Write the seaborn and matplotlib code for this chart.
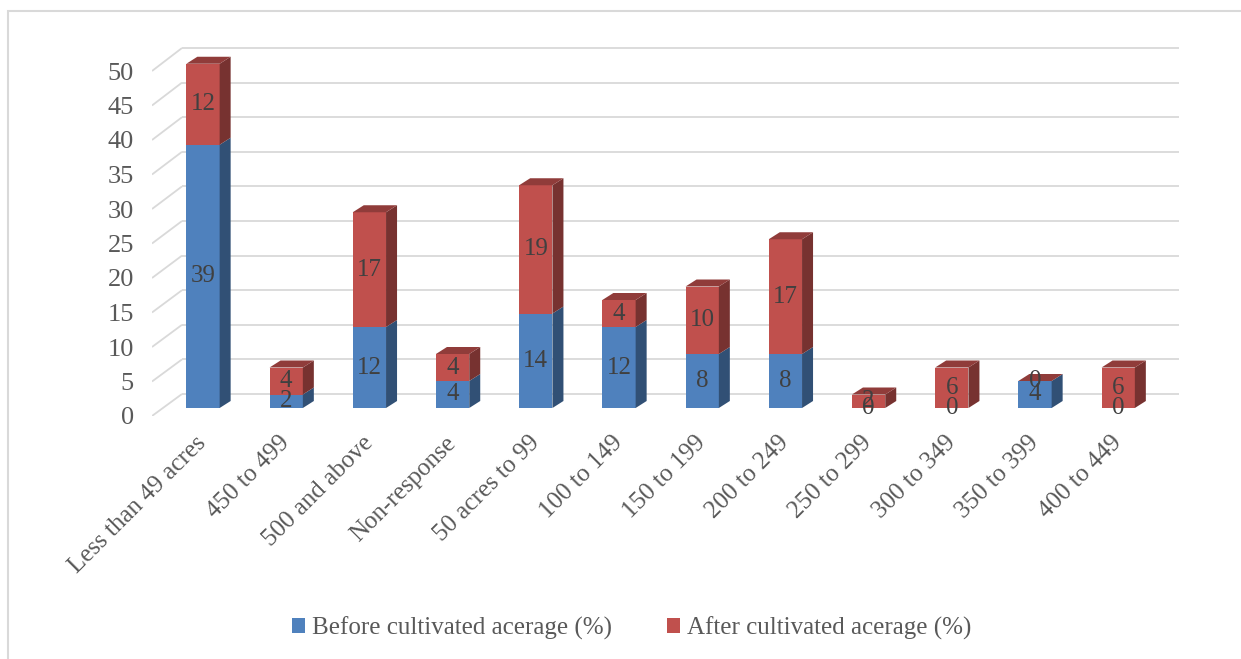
import matplotlib
matplotlib.use("Agg")
import matplotlib.pyplot as plt
import seaborn as sns
import pandas as pd
import numpy as np
from matplotlib.patches import Polygon, Rectangle, Patch
import matplotlib.colors as mcolors

# ---------------- data ----------------
categories = ["Less than 49 acres", "450 to 499", "500 and above", "Non-response",
              "50 acres to 99", "100 to 149", "150 to 199", "200 to 249",
              "250 to 299", "300 to 349", "350 to 399", "400 to 449"]
before = [39, 2, 12, 4, 14, 12, 8, 8, 0, 0, 4, 0]
after = [12, 4, 17, 4, 19, 4, 10, 17, 2, 6, 0, 6]
series_names = ["Before cultivated acerage (%)", "After cultivated acerage (%)"]
y_ticks = [0, 5, 10, 15, 20, 25, 30, 35, 40, 45, 50]

# ---------------- style ----------------
sns.set_theme(style="white")
plt.rcParams["font.family"] = ["Liberation Serif", "DejaVu Serif"]

BLUE = "#4F81BD"
RED = "#C0504D"
TXT = "#595959"
LBL = "#404040"
GRID = "#D9D9D9"
FS = 18


def shade(c, f):
    r, g, b = mcolors.to_rgb(c)
    return (r * f, g * f, b * f)


W, H = 1241, 659
fig = plt.figure(figsize=(W / 100, H / 100), dpi=100)

# pixel geometry of the plot area
X0, DX = 203.0, 83.2      # pixel x of first category, pixels per category
Y0, DY = 408.0, 6.75      # pixel y of value 0 on bar front, pixels per unit


def dx(px):
    return (px - X0) / DX


def dy(py):
    return (Y0 - py) / DY


left_px, right_px, bottom_py, top_py = 152, 1200, 416, 30
ax = fig.add_axes([left_px / W, 1 - bottom_py / H,
                   (right_px - left_px) / W, (bottom_py - top_py) / H])

df = pd.DataFrame({"category": categories, "before": before, "after": after})
df["total"] = df["before"] + df["after"]

BW = 0.40
sns.barplot(data=df, x="category", y="total", order=categories, color=RED,
            saturation=1, width=BW, linewidth=0, ax=ax, zorder=3)
sns.barplot(data=df, x="category", y="before", order=categories, color=BLUE,
            saturation=1, width=BW, linewidth=0, ax=ax, zorder=3)

# 3D depth faces
ddx = 11 / DX
ddy = 7 / DY
for i, (b, a) in enumerate(zip(before, after)):
    xr = i + BW / 2
    xl = i - BW / 2
    segs = [(0, b, BLUE), (b, b + a, RED)]
    for y0, y1, c in segs:
        if y1 > y0:
            ax.add_patch(Polygon([(xr, y0), (xr + ddx, y0 + ddy), (xr + ddx, y1 + ddy), (xr, y1)],
                                 closed=True, facecolor=shade(c, 0.62), edgecolor="none", zorder=3))
    top = b + a
    ax.add_patch(Polygon([(xl, top), (xl + ddx, top + ddy), (xr + ddx, top + ddy), (xr, top)],
                         closed=True, facecolor=shade(RED, 0.75), edgecolor="none", zorder=3))
    # data labels
    ax.text(i, b / 2, str(b), ha="center", va="center", color=LBL, fontsize=FS, zorder=5)
    ax.text(i, b + a / 2, str(a), ha="center", va="center", color=LBL, fontsize=FS, zorder=5)

# perspective gridlines (floor edge -> back wall)
xa, xb, xe = dx(152), dx(182), dx(1179)
front_pos = []
for v in y_ticks:
    fy = dy(416 - 6.9 * v)
    by = dy(394 - 6.92 * v)
    front_pos.append(fy)
    ax.plot([xa, xb], [fy, by], color=GRID, lw=1.3, zorder=0, solid_capstyle="butt")
    ax.plot([xb, xe], [by, by], color=GRID, lw=1.3, zorder=0, solid_capstyle="butt")

ax.set_xlim(dx(left_px), dx(right_px))
ax.set_ylim(dy(bottom_py), dy(top_py))

ax.set_yticks(front_pos)
ax.set_yticklabels([str(v) for v in y_ticks], color=TXT, fontsize=FS + 1)
ax.set_xticks(range(len(categories)))
ax.set_xticklabels(categories, rotation=45, ha="right", va="center",
                   rotation_mode="anchor", color=TXT, fontsize=FS)
ax.tick_params(axis="y", length=0, pad=13)
ax.tick_params(axis="x", length=0, pad=17)
ax.set_xlabel("")
ax.set_ylabel("")
for s in ax.spines.values():
    s.set_visible(False)
ax.patch.set_alpha(0)

# legend
handles = [Patch(facecolor=BLUE, edgecolor="none"), Patch(facecolor=RED, edgecolor="none")]
leg = fig.legend(handles=handles, labels=series_names, loc="center",
                 bbox_to_anchor=(632 / W, 1 - 628 / H), ncol=2, frameon=False,
                 fontsize=FS, handlelength=0.5, handleheight=0.5,
                 handletextpad=0.3, columnspacing=2.2)
for t in leg.get_texts():
    t.set_color(TXT)

# outer chart border
fig.add_artist(Rectangle((8 / W, -0.1), 1.2, 1 - 11 / H + 0.1, transform=fig.transFigure,
                         fill=False, edgecolor=GRID, lw=1.5))

fig.savefig("out.png", dpi=100)
